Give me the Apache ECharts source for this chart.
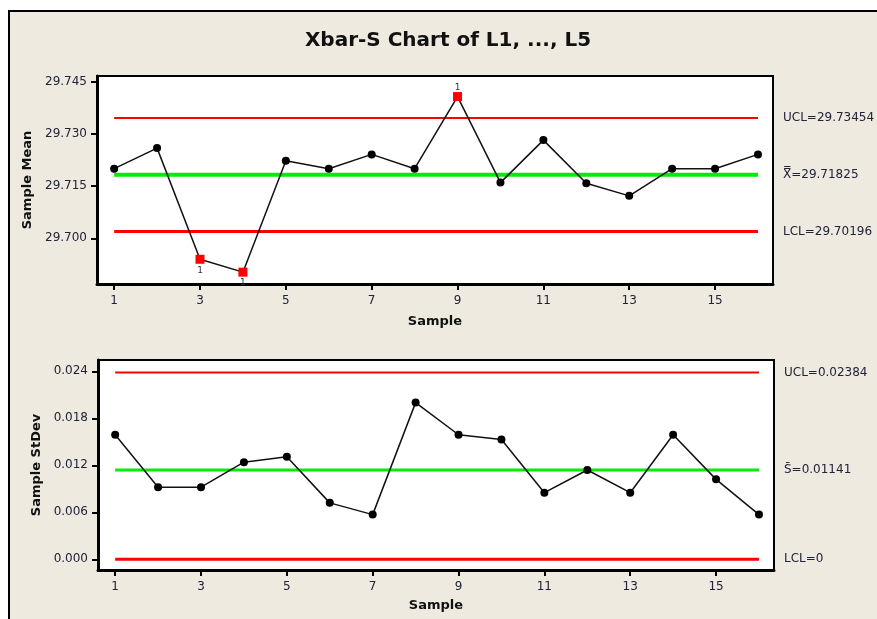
<!DOCTYPE html>
<html>
<head>
<meta charset="utf-8">
<script src="https://cdn.jsdelivr.net/npm/echarts@6/dist/echarts.min.js"></script>
<style>
  html, body { margin: 0; padding: 0; background: #ffffff; }
  #chart { width: 877px; height: 619px; }
</style>
</head>
<body>
<div id="chart"></div>
<script>
// Subgroup numbers and the per-subgroup statistics
const samples = [1, 2, 3, 4, 5, 6, 7, 8, 9, 10, 11, 12, 13, 14, 15, 16];
const sampleMeans = [29.7200, 29.7259, 29.6940, 29.6903, 29.7223, 29.7200, 29.7241, 29.7200,
                     29.7407, 29.7160, 29.7282, 29.7158, 29.7122, 29.7200, 29.7200, 29.7241];
const sampleStDevs = [0.0159, 0.0092, 0.0092, 0.0124, 0.0131, 0.0072, 0.0057, 0.0200,
                      0.0159, 0.0153, 0.0085, 0.0114, 0.0085, 0.0159, 0.0102, 0.0057];

// Control limits
const meanUCL = 29.73454;
const meanCenter = 29.71825;
const meanLCL = 29.70196;
const sdUCL = 0.02384;
const sdCenter = 0.01141;
const sdLCL = 0;

// Tick labels
const sampleTicks = [1, 3, 5, 7, 9, 11, 13, 15];
const meanTicks = [29.700, 29.715, 29.730, 29.745];
const sdTicks = [0.000, 0.006, 0.012, 0.018, 0.024];

const BG = '#EEEAE0';
const TXT = '#22223a';
const FONT = '"DejaVu Sans", Verdana, sans-serif';

const first = samples[0];
const last = samples[samples.length - 1];

function limitLine(name, gi, value, color, width, text) {
  return {
    name: name,
    type: 'line',
    xAxisIndex: gi, yAxisIndex: gi,
    data: [[first, value], [last, value]],
    symbol: 'none',
    silent: true,
    z: 2,
    lineStyle: { color: color, width: width },
    endLabel: {
      show: true,
      formatter: text,
      distance: 25,
      color: TXT,
      fontFamily: FONT,
      fontSize: 12
    }
  };
}

function statSeries(name, gi, values, ucl, lcl) {
  return {
    name: name,
    type: 'line',
    xAxisIndex: gi, yAxisIndex: gi,
    z: 5,
    symbol: 'circle',
    symbolSize: 8,
    itemStyle: { color: '#000' },
    lineStyle: { color: '#111', width: 1.5 },
    data: values.map(function (v, i) {
      const high = v > ucl;
      const low = v < lcl;
      if (!high && !low) return [samples[i], v];
      return {
        value: [samples[i], v],
        symbol: 'rect',
        symbolSize: 9,
        itemStyle: { color: '#ff0000' },
        label: {
          show: true,
          formatter: '1',
          position: high ? 'top' : 'bottom',
          distance: high ? 0 : 2,
          color: '#333',
          fontFamily: FONT,
          fontSize: 9
        }
      };
    })
  };
}

function xAxis(gi, gap) {
  return {
    gridIndex: gi,
    type: 'value',
    min: 0.6, max: 16.35,
    name: 'Sample',
    nameLocation: 'middle',
    nameGap: gap,
    nameTextStyle: { color: '#111', fontFamily: FONT, fontWeight: 'bold', fontSize: 13 },
    axisLine: { show: true, onZero: false, lineStyle: { color: '#000', width: 3 } },
    axisTick: { show: true, customValues: sampleTicks, length: 6, lineStyle: { color: '#000', width: 2 } },
    axisLabel: { customValues: sampleTicks, margin: 11, color: TXT, fontFamily: FONT, fontSize: 12 },
    splitLine: { show: false }
  };
}

function yAxis(gi, name, min, max, ticks, gap) {
  return {
    gridIndex: gi,
    type: 'value',
    min: min, max: max,
    name: name,
    nameLocation: 'middle',
    nameGap: gap,
    nameTextStyle: { color: '#111', fontFamily: FONT, fontWeight: 'bold', fontSize: 13 },
    axisLine: { show: true, onZero: false, lineStyle: { color: '#000', width: 3 } },
    axisTick: { show: true, customValues: ticks, length: 6, lineStyle: { color: '#000', width: 2 } },
    axisLabel: {
      customValues: ticks, margin: 10, color: TXT, fontFamily: FONT, fontSize: 12,
      formatter: function (v) { return v.toFixed(3); }
    },
    splitLine: { show: false }
  };
}

const chart = echarts.init(document.getElementById('chart'), null, { renderer: 'canvas' });

chart.setOption({
  animation: false,
  backgroundColor: '#ffffff',
  graphic: [{
    type: 'rect',
    z: -10,
    silent: true,
    shape: { x: 9, y: 11, width: 900, height: 700 },
    style: { fill: BG, stroke: '#000', lineWidth: 2 }
  }],
  title: {
    text: 'Xbar-S Chart of L1, ..., L5',
    left: 443,
    textAlign: 'center',
    top: 26,
    textStyle: { color: '#111', fontFamily: '"DejaVu Sans", sans-serif', fontWeight: 'bold', fontSize: 20 }
  },
  grid: [
    { left: 97, top: 76, width: 676, height: 208, show: true, backgroundColor: '#fff', borderColor: '#000', borderWidth: 2 },
    { left: 98, top: 360, width: 676, height: 210, show: true, backgroundColor: '#fff', borderColor: '#000', borderWidth: 2 }
  ],
  xAxis: [xAxis(0, 31), xAxis(1, 29)],
  yAxis: [
    yAxis(0, 'Sample Mean', 29.6869, 29.7466, meanTicks, 63),
    yAxis(1, 'Sample StDev', -0.00137, 0.02544, sdTicks, 54)
  ],
  series: [
    limitLine('UCL', 0, meanUCL, '#ff0000', 2, 'UCL=' + meanUCL.toFixed(5)),
    limitLine('Center', 0, meanCenter, '#00ee00', 4, 'X\u033F=' + meanCenter.toFixed(5)),
    limitLine('LCL', 0, meanLCL, '#ff0000', 3, 'LCL=' + meanLCL.toFixed(5)),
    statSeries('Sample Mean', 0, sampleMeans, meanUCL, meanLCL),
    limitLine('UCL', 1, sdUCL, '#ff0000', 2, 'UCL=' + sdUCL.toFixed(5)),
    limitLine('Center', 1, sdCenter, '#00ee00', 3, 'S\u0304=' + sdCenter.toFixed(5)),
    limitLine('LCL', 1, sdLCL, '#ff0000', 3, 'LCL=' + sdLCL),
    statSeries('Sample StDev', 1, sampleStDevs, sdUCL, sdLCL)
  ]
});
</script>
</body>
</html>
